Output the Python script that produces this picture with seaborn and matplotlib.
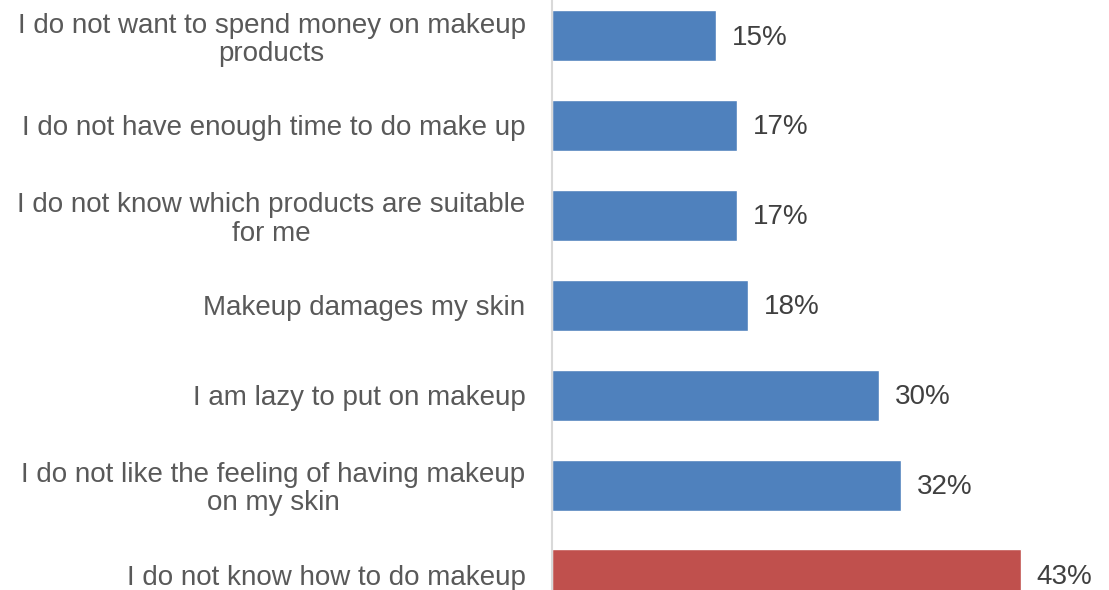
import matplotlib
matplotlib.use("Agg")
import matplotlib.pyplot as plt
import seaborn as sns
import pandas as pd

reasons = [
    "I do not want to spend money on makeup\nproducts",
    "I do not have enough time to do make up",
    "I do not know which products are suitable\nfor me",
    "Makeup damages my skin",
    "I am lazy to put on makeup",
    "I do not like the feeling of having makeup\non my skin",
    "I do not know how to do makeup",
]
shares = [15, 17, 17, 18, 30, 32, 43]
bar_colors = ["#4F81BD"] * 6 + ["#C0504D"]

df = pd.DataFrame({"reason": reasons, "share": shares})

sns.set_theme(style="white")
plt.rcParams["font.family"] = ["Liberation Sans", "DejaVu Sans"]

fig = plt.figure(figsize=(11.09, 5.90), dpi=100)
ax = fig.add_axes([552 / 1109, 0.0, 1 - 552 / 1109, 1.0])

sns.barplot(data=df, x="share", y="reason", hue="reason", palette=bar_colors,
            legend=False, orient="h", width=0.568, ax=ax, saturation=1)

ax.set_xlim(0, 557 / 10.9)
ax.set_ylim(6.167, -0.395)
ax.set_xlabel("")
ax.set_ylabel("")
ax.set_xticks([])

for side in ("top", "right", "bottom"):
    ax.spines[side].set_visible(False)
ax.spines["left"].set_color("#D9D9D9")
ax.spines["left"].set_linewidth(1.5)

ax.tick_params(axis="y", length=0, pad=19)
for lbl in ax.get_yticklabels():
    lbl.set_fontsize(20)
    lbl.set_color("#595959")
    lbl.set_multialignment("center")
    lbl.set_linespacing(1.12)

for i, v in enumerate(shares):
    ax.annotate(f"{v}%", xy=(v, i), xytext=(16, -2), textcoords="offset pixels",
                ha="left", va="center", fontsize=20, color="#404040")

fig.savefig("out.png", dpi=100)
